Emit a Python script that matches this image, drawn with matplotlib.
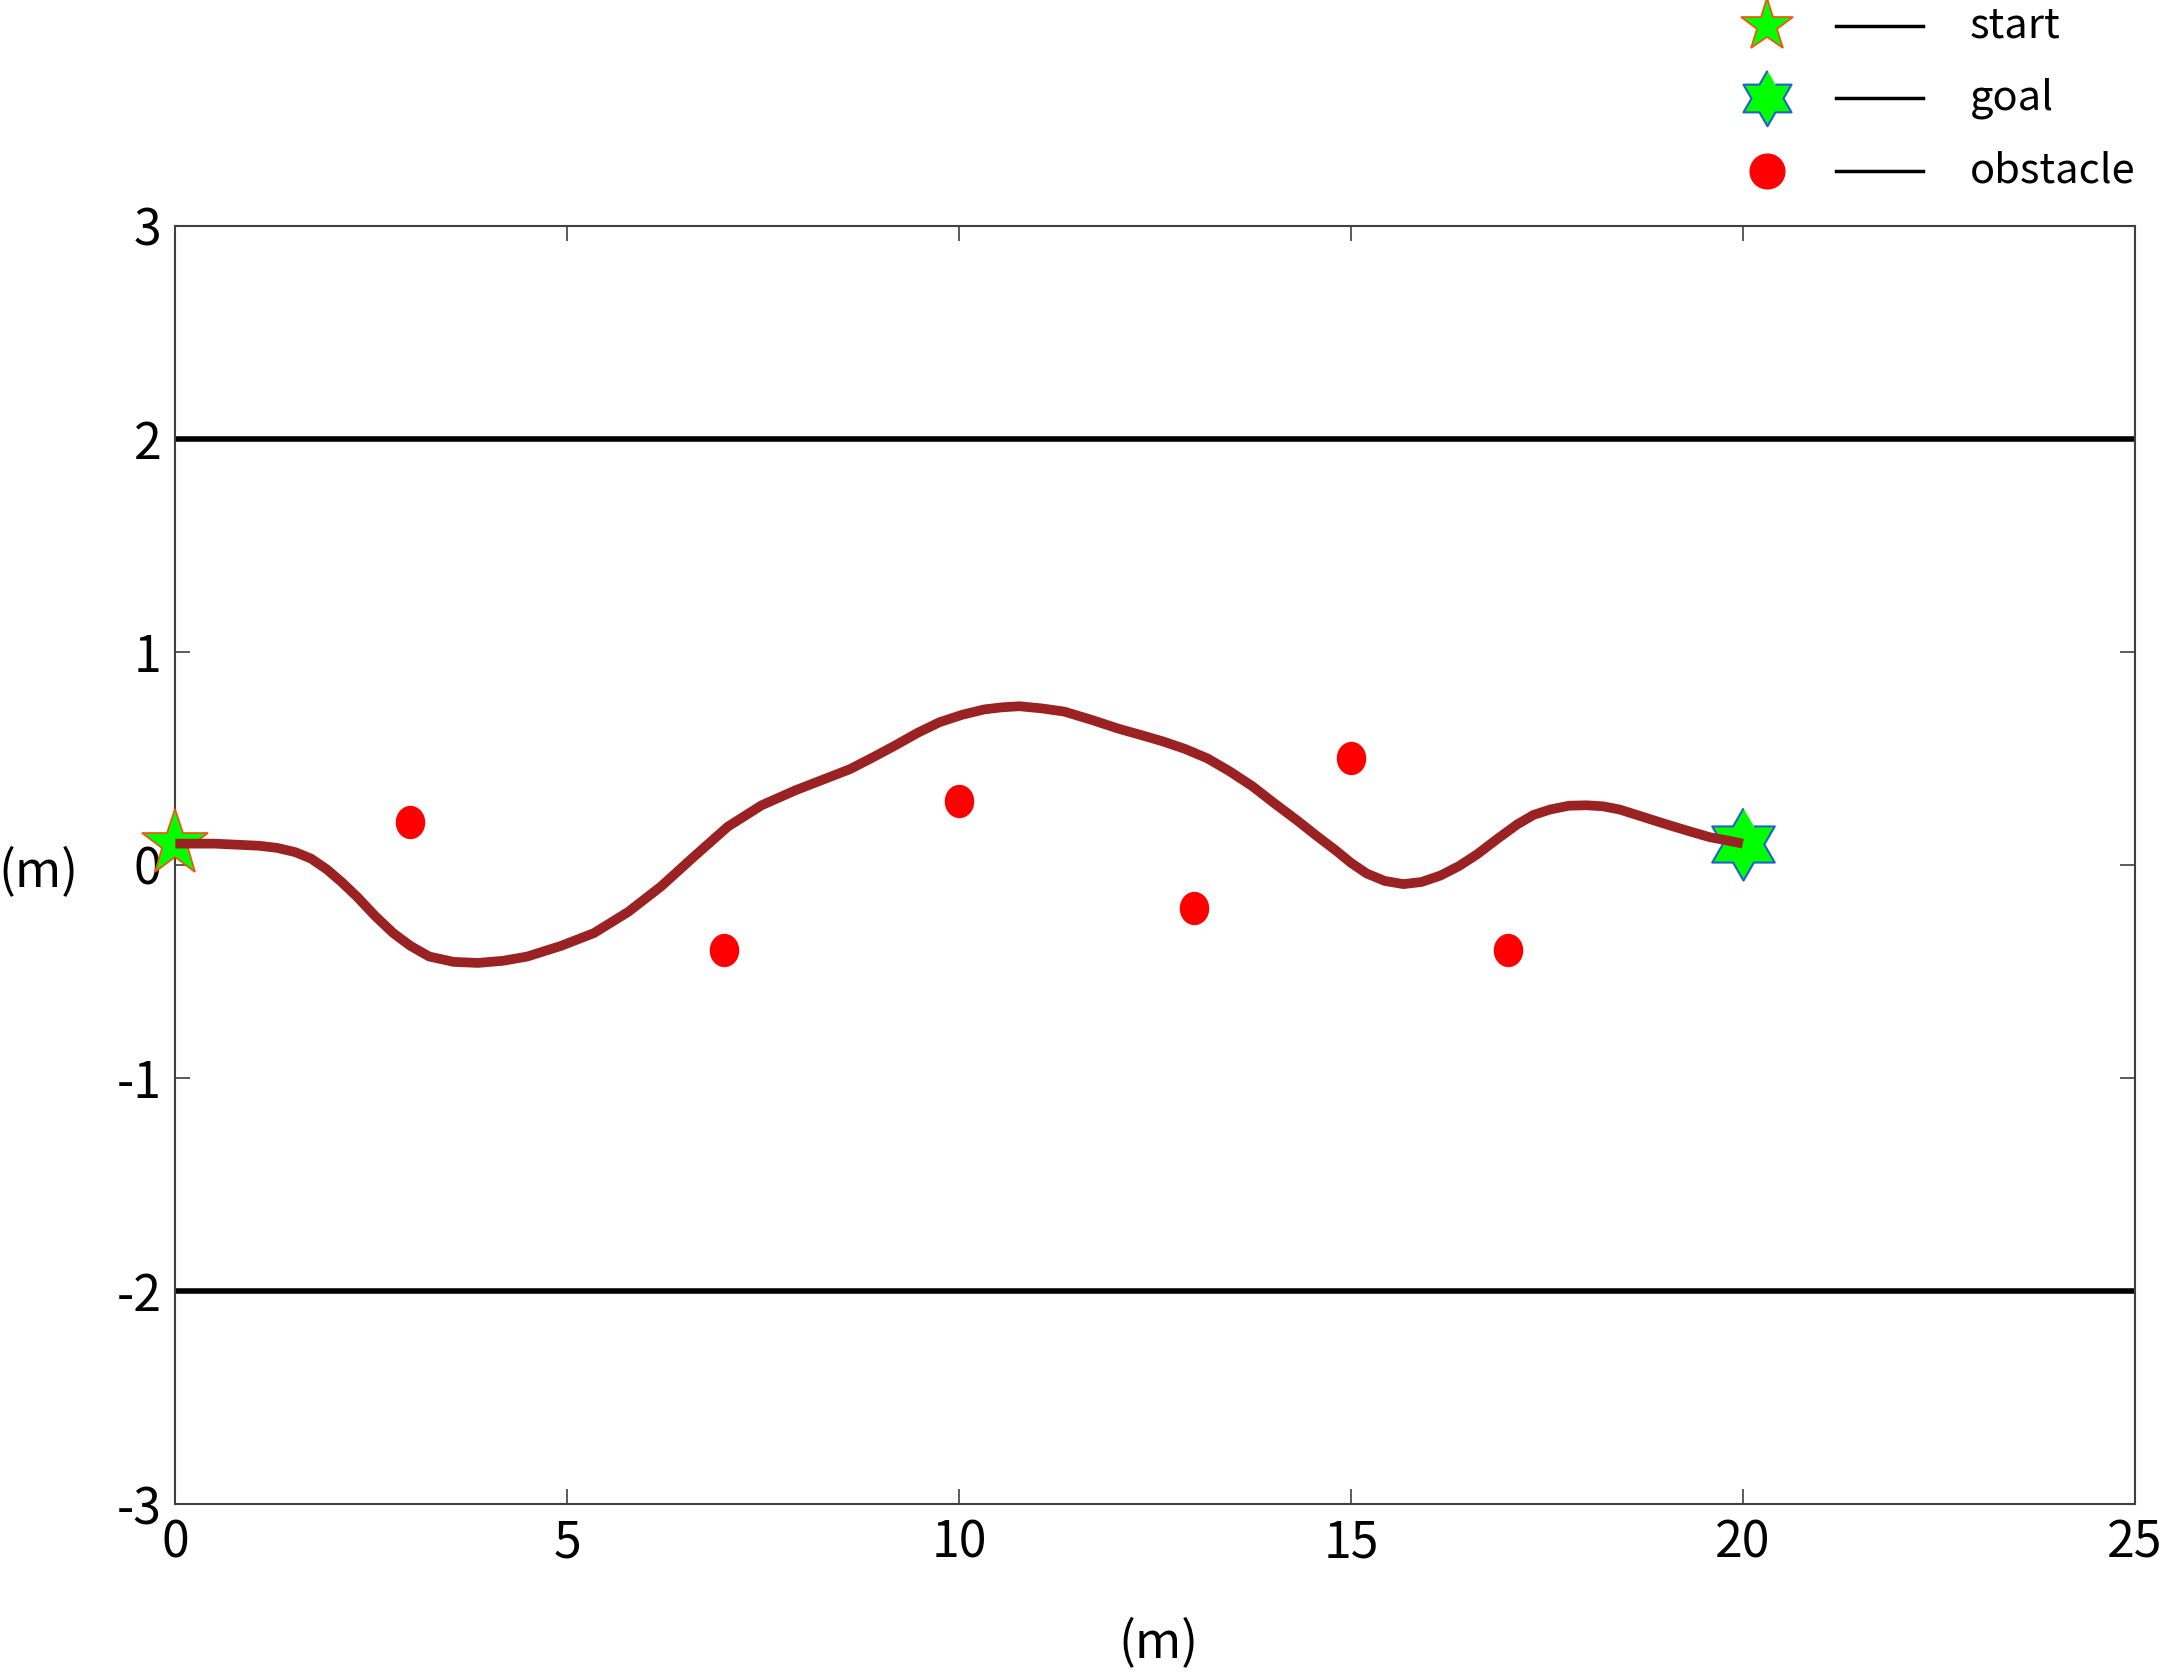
import numpy as np
import matplotlib
matplotlib.use("Agg")
import matplotlib.pyplot as plt
from matplotlib.path import Path
from matplotlib.transforms import Affine2D
from matplotlib.lines import Line2D

plt.rcParams['font.family'] = ['Noto Sans CJK SC', 'DejaVu Sans']
plt.rcParams['axes.unicode_minus'] = False

# planned path
path_x = [0.0, 0.5, 1.07, 1.30, 1.53, 1.73, 1.93, 2.12, 2.32, 2.55, 2.78, 3.00,
          3.24, 3.55, 3.86, 4.18, 4.49, 4.92, 5.34, 5.78, 6.20, 6.62, 7.05, 7.48,
          7.91, 8.26, 8.61, 8.90, 9.18, 9.47, 9.75, 10.04, 10.32, 10.55, 10.77, 11.05,
          11.34, 11.70, 12.03, 12.32, 12.60, 12.88, 13.17, 13.45, 13.74, 14.02, 14.31,
          14.55, 14.80, 15.00, 15.20, 15.43, 15.67, 15.90, 16.14, 16.38, 16.61, 16.86,
          17.12, 17.33, 17.54, 17.78, 18.01, 18.22, 18.43, 18.73, 19.03, 19.30, 19.58,
          19.80, 20.0]
path_y = [0.10, 0.10, 0.09, 0.08, 0.06, 0.03, -0.02, -0.08, -0.15, -0.24, -0.32, -0.38,
          -0.43, -0.455, -0.46, -0.45, -0.43, -0.38, -0.32, -0.22, -0.10, 0.04, 0.18, 0.28,
          0.35, 0.40, 0.45, 0.505, 0.56, 0.62, 0.67, 0.705, 0.73, 0.74, 0.745, 0.735,
          0.72, 0.68, 0.64, 0.61, 0.58, 0.545, 0.50, 0.44, 0.37, 0.29, 0.21,
          0.14, 0.07, 0.01, -0.04, -0.075, -0.09, -0.08, -0.05, -0.005, 0.05, 0.12,
          0.19, 0.235, 0.26, 0.278, 0.28, 0.275, 0.26, 0.225, 0.19, 0.16, 0.13,
          0.115, 0.10]

obs_x = [3, 7, 10, 13, 15, 17]
obs_y = [0.2, -0.4, 0.3, -0.2, 0.5, -0.4]

start = (0, 0.1)
goal = (20, 0.1)

road_y = [2, -2]

xticks = [0, 5, 10, 15, 20, 25]
yticks = [-3, -2, -1, 0, 1, 2, 3]

legend_labels = ['start', 'goal', 'obstacle']

# marker shapes
ang = np.pi / 2 + np.arange(12) * np.pi / 6
rad = np.where(np.arange(12) % 2 == 0, 1.0, 1 / np.sqrt(3))
hexagram = Path(np.column_stack([rad * np.cos(ang), rad * np.sin(ang)]))
ellipse = Path.unit_circle().transformed(Affine2D().scale(0.88, 1.0))

green = '#00ff00'
star_edge = '#ff4a10'
hex_edge = '#2060d0'
path_col = '#9b2222'

fig = plt.figure(figsize=(21.65, 16.73), dpi=100)
ax = fig.add_axes([0.081, 0.101, 0.905, 0.764])

for yv in road_y:
    ax.axhline(yv, color='black', lw=4, zorder=2)

ax.plot(obs_x, obs_y, ls='none', marker=ellipse, ms=23, color='red', mec='red', zorder=3)
ax.plot([start[0]], [start[1]], ls='none', marker='*', ms=50, mfc=green, mec=star_edge,
        mew=1.2, zorder=4, clip_on=False)
ax.plot([goal[0]], [goal[1]], ls='none', marker=hexagram, ms=52, mfc=green, mec=hex_edge,
        mew=1.5, zorder=4, clip_on=False)
ax.plot(path_x, path_y, color=path_col, lw=7, solid_capstyle='butt',
        solid_joinstyle='round', zorder=5)

ax.set_xlim(0, 25)
ax.set_ylim(-3, 3)
ax.set_xticks(xticks)
ax.set_yticks(yticks)
ax.tick_params(direction='in', length=11, width=1.2, top=True, right=True,
               labelsize=36, pad=10, color='#404040')
for lbl in ax.get_xticklabels() + ax.get_yticklabels():
    lbl.set_fontweight('light')
for s in ax.spines.values():
    s.set_color('#404040')
    s.set_linewidth(1.5)

ax.set_xlabel('(m)', fontsize=36, va='center', fontweight='light')
ax.xaxis.set_label_coords(0.5015, -0.109)
ax.set_ylabel('(m)', fontsize=36, rotation=0, ha='center', va='center', fontweight='light')
ax.yaxis.set_label_coords(-0.070, 0.494)

# legend drawn by hand at the top right
W, H = 2165, 1673
rows_y = [26, 98, 171]
mk_x = 1767
handles = [dict(marker='*', ms=40, mfc=green, mec=star_edge, mew=1.2),
           dict(marker=hexagram, ms=40, mfc=green, mec=hex_edge, mew=1.5),
           dict(marker='o', ms=25, mfc='red', mec='red', mew=1)]
for ry, lab, h in zip(rows_y, legend_labels, handles):
    fy = 1 - ry / H
    fig.add_artist(Line2D([mk_x / W], [fy], ls='none', transform=fig.transFigure, **h))
    fig.add_artist(Line2D([1836 / W, 1923 / W], [fy, fy], color='black', lw=2.5,
                          transform=fig.transFigure))
    fig.text(1970 / W, fy, lab, fontsize=30, ha='left', va='center', fontweight='light')

fig.savefig('out.png', dpi=100)
